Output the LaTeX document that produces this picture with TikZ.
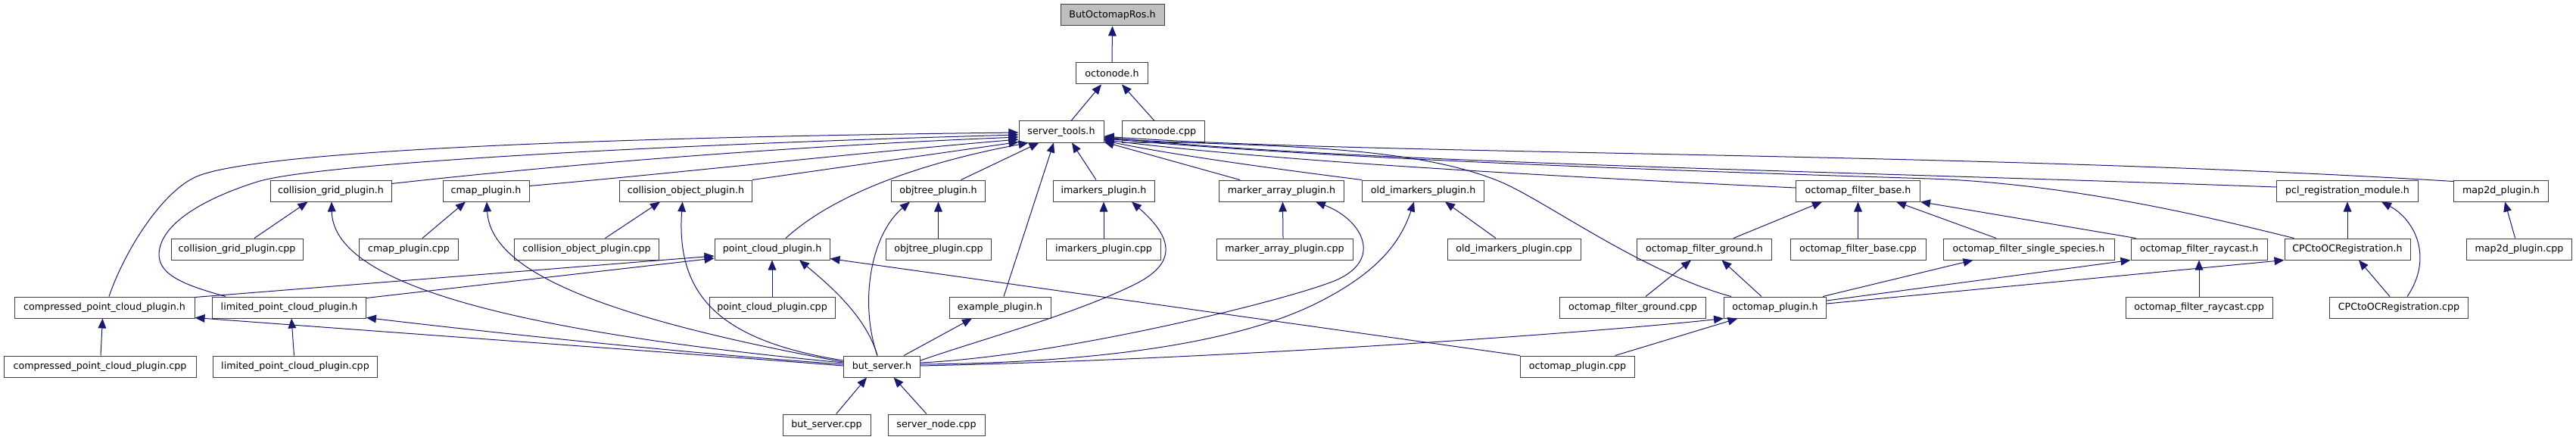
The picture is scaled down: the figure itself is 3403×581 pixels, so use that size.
\documentclass[tikz,border=0pt]{standalone}
\usepackage{fontspec}
\setmainfont{DejaVu Sans}
\usetikzlibrary{arrows.meta,calc}
\definecolor{edgecol}{HTML}{191970}
\definecolor{nodeborder}{HTML}{404040}
\definecolor{rootfill}{HTML}{BFBFBF}
\tikzset{
  box/.style={draw=nodeborder, line width=0.75pt, fill=white, minimum height=21pt,
    inner xsep=1pt, inner ysep=0pt, font=\fontsize{9.5pt}{11pt}\selectfont, anchor=center},
  bw/.style={minimum width={#1*0.75pt}},
  inc/.style={draw=edgecol, line width=0.75pt, {Triangle[length=9.75pt,width=8pt]}-},
}
\begin{document}
\begin{tikzpicture}[x=0.75pt,y=-0.75pt]
\useasboundingbox (0,0) rectangle (3403,581);
% row 0-2
\node[box,bw=137,fill=rootfill] (bor) at (1469.5,20) {ButOctomapRos.h};
\node[box,bw=95] (ocn) at (1469,97) {octonode.h};
\node[box,bw=112] (st) at (1402,174) {server\_tools.h};
\node[box,bw=109] (ocncpp) at (1537,174) {octonode.cpp};
% row 3
\node[box,bw=160] (cgh) at (437,252) {collision\_grid\_plugin.h};
\node[box,bw=114] (cmh) at (642,252) {cmap\_plugin.h};
\node[box,bw=175] (coh) at (906,252) {collision\_object\_plugin.h};
\node[box,bw=124] (oth) at (1239.5,252) {objtree\_plugin.h};
\node[box,bw=134] (imh) at (1458,252) {imarkers\_plugin.h};
\node[box,bw=165] (mah) at (1693,252) {marker\_array\_plugin.h};
\node[box,bw=161] (oih) at (1880,252) {old\_imarkers\_plugin.h};
\node[box,bw=164] (ofbh) at (2454.5,252) {octomap\_filter\_base.h};
\node[box,bw=187] (pclh) at (3101,252) {pcl\_registration\_module.h};
\node[box,bw=125] (m2h) at (3304,252) {map2d\_plugin.h};
% row 4
\node[box,bw=174] (cgcpp) at (313,329) {collision\_grid\_plugin.cpp};
\node[box,bw=131] (cmcpp) at (540,329) {cmap\_plugin.cpp};
\node[box,bw=191] (cocpp) at (775,329) {collision\_object\_plugin.cpp};
\node[box,bw=152] (pch) at (1020,329) {point\_cloud\_plugin.h};
\node[box,bw=139] (otcpp) at (1240,329) {objtree\_plugin.cpp};
\node[box,bw=151] (imcpp) at (1458,329) {imarkers\_plugin.cpp};
\node[box,bw=180] (macpp) at (1697,329) {marker\_array\_plugin.cpp};
\node[box,bw=176] (oicpp) at (2000,329) {old\_imarkers\_plugin.cpp};
\node[box,bw=178] (ofgh) at (2251.5,329) {octomap\_filter\_ground.h};
\node[box,bw=179] (ofbcpp) at (2454.5,329) {octomap\_filter\_base.cpp};
\node[box,bw=226] (ofssh) at (2680,329) {octomap\_filter\_single\_species.h};
\node[box,bw=180] (ofrh) at (2905,329) {octomap\_filter\_raycast.h};
\node[box,bw=166] (cpch) at (3101,329) {CPCtoOCRegistration.h};
\node[box,bw=139] (m2cpp) at (3328,329) {map2d\_plugin.cpp};
% row 5
\node[box,bw=238] (cpph) at (138,406) {compressed\_point\_cloud\_plugin.h};
\node[box,bw=203] (lpph) at (382,406) {limited\_point\_cloud\_plugin.h};
\node[box,bw=166] (pccpp) at (1020,406) {point\_cloud\_plugin.cpp};
\node[box,bw=134] (exh) at (1321,406) {example\_plugin.h};
\node[box,bw=193] (ofgcpp) at (2157,406) {octomap\_filter\_ground.cpp};
\node[box,bw=135] (omh) at (2345,406) {octomap\_plugin.h};
\node[box,bw=194] (ofrcpp) at (2905,406) {octomap\_filter\_raycast.cpp};
\node[box,bw=183] (cpccpp) at (3169,406) {CPCtoOCRegistration.cpp};
% row 6
\node[box,bw=254] (cppcpp) at (132,484) {compressed\_point\_cloud\_plugin.cpp};
\node[box,bw=217] (lppcpp) at (390,484) {limited\_point\_cloud\_plugin.cpp};
\node[box,bw=101] (bsh) at (1165,484) {but\_server.h};
\node[box,bw=151] (omcpp) at (2084,484) {octomap\_plugin.cpp};
% row 7
\node[box,bw=116] (bscpp) at (1092,561) {but\_server.cpp};
\node[box,bw=128] (sncpp) at (1237,561) {server\_node.cpp};

% top chain
\draw[inc] (bor.south) -- (ocn.north);
\draw[inc] ($(ocn.south)+(-14,0)$) -- ($(st.north)+(13,0)$);
\draw[inc] ($(ocn.south)+(13,0)$) -- ($(ocncpp.north)+(-12,0)$);

% into server_tools.h, left side
\draw[inc] ($(st.west)+(0,1)$) .. controls (900,180) and (350,195) .. (260,233) .. controls (215,252) and (165,330) .. ($(cpph.north)+(6,0)$);
\draw[inc] ($(st.west)+(0,4)$) .. controls (900,190) and (420,215) .. (340,240) .. controls (270,262) and (212,295) .. (210,335) .. controls (209,365) and (250,378) .. ($(lpph.north)+(-84,0)$);
\draw[inc] ($(st.west)+(0,7)$) .. controls (1000,195) and (700,222) .. ($(cgh.north east)+(0,5)$);
\draw[inc] ($(st.west)+(0,10)$) .. controls (1100,205) and (900,228) .. ($(cmh.north east)+(0,8)$);
\draw[inc] ($(st.south west)+(0,-1)$) -- (coh.north east);
\draw[inc] ($(st.south west)+(13,0)$) .. controls (1270,205) and (1120,240) .. ($(pch.north)+(18,0)$);
\draw[inc] ($(st.south west)+(27,0)$) -- ($(oth.north)+(30,0)$);
\draw[inc] ($(st.south)+(-10,0)$) -- ($(exh.north)+(5,0)$);
\draw[inc] ($(st.south)+(14,0)$) -- ($(imh.north)+(-10,0)$);
% into server_tools.h, right side
\draw[inc] ($(st.south east)+(0,-1)$) -- ($(mah.north west)+(28,0)$);
\draw[inc] ($(st.south east)+(0,-3)$) .. controls (1550,205) and (1700,225) .. (oih.north west);
\draw[inc] ($(st.south east)+(0,-4)$) .. controls (1700,215) and (2100,235) .. ($(ofbh.west)+(0,-4)$);
\draw[inc] ($(st.east)+(0,8)$) .. controls (1620,195) and (1850,185) .. (1982,240) .. controls (2040,264) and (2170,360) .. ($(omh.north west)+(10,0)$);
\draw[inc] ($(st.east)+(0,7)$) .. controls (1800,215) and (2400,225) .. ($(pclh.west)+(0,-5)$);
\draw[inc] ($(st.east)+(0,6)$) .. controls (1800,205) and (2600,200) .. ($(m2h.north west)+(0,2)$);
\draw[inc] ($(st.east)+(0,9)$) .. controls (1800,213) and (2300,228) .. (2550,236) .. controls (2750,243) and (2950,295) .. ($(cpch.north west)+(13,0)$);

% from but_server.h
\draw[inc] ($(cpph.south east)+(0,-1)$) .. controls (600,445) and (950,470) .. ($(bsh.west)+(0,-1)$);
\draw[inc] ($(lpph.south east)+(0,-1)$) .. controls (700,445) and (950,470) .. ($(bsh.west)+(0,-3)$);
\draw[inc] ($(cgh.south)+(1,0)$) .. controls (440,370) and (650,435) .. ($(bsh.west)+(0,-5)$);
\draw[inc] ($(cmh.south)+(1,0)$) .. controls (648,360) and (800,420) .. ($(bsh.west)+(0,-6)$);
\draw[inc] ($(coh.south)+(-4.5,0)$) .. controls (893,390) and (950,450) .. ($(bsh.west)+(0,-8)$);
\draw[inc] ($(oth.south)+(-37.5,0)$) .. controls (1150,310) and (1135,400) .. ($(bsh.north)+(-6,0)$);
\draw[inc] ($(pch.south)+(36,0)$) .. controls (1100,380) and (1145,420) .. ($(bsh.north)+(-6,0)$);
\draw[inc] ($(imh.south)+(37,0)$) .. controls (1545,310) and (1560,345) .. (1500,375) .. controls (1420,415) and (1290,450) .. ($(bsh.east)+(0,-8)$);
\draw[inc] ($(mah.south)+(45,0)$) .. controls (1800,290) and (1830,345) .. (1760,372) .. controls (1690,399) and (1400,470) .. ($(bsh.east)+(0,-5)$);
\draw[inc] ($(oih.south)+(-12,0)$) .. controls (1850,320) and (1820,360) .. (1740,400) .. controls (1600,470) and (1350,480) .. ($(bsh.east)+(0,-3)$);
\draw[inc] ($(exh.south)+(-37,0)$) -- ($(bsh.north)+(29,0)$);
\draw[inc] (omh.south west) .. controls (2100,440) and (1600,475) .. ($(bsh.east)+(0,-1)$);
\draw[inc] ($(bsh.south)+(-20,0)$) -- ($(bscpp.north)+(12.7,0)$);
\draw[inc] ($(bsh.south)+(15.6,0)$) -- ($(sncpp.north)+(-13,0)$);

% cpp to own headers and others
\draw[inc] ($(cgh.south)+(-30.5,0)$) -- ($(cgcpp.north)+(23,0)$);
\draw[inc] ($(cmh.south)+(-27,0)$) -- ($(cmcpp.north)+(18,0)$);
\draw[inc] ($(coh.south)+(-34,0)$) -- ($(cocpp.north)+(24.5,0)$);
\draw[inc] (oth.south) -- ($(otcpp.north)+(-0.5,0)$);
\draw[inc] (imh.south) -- (imcpp.north);
\draw[inc] ($(mah.south)+(1.5,0)$) -- ($(macpp.north)+(-2,0)$);
\draw[inc] ($(oih.south)+(29,0)$) -- ($(oicpp.north)+(-24,0)$);
\draw[inc] ($(ofbh.south)+(-47.5,0)$) -- ($(ofgh.north)+(38.5,0)$);
\draw[inc] (ofbh.south) -- (ofbcpp.north);
\draw[inc] ($(ofbh.south)+(50.5,0)$) -- ($(ofssh.north)+(-43,0)$);
\draw[inc] (ofbh.south east) -- ($(ofrh.north west)+(7,0)$);
\draw[inc] ($(ofgh.south)+(-17.5,0)$) -- ($(ofgcpp.north)+(17,0)$);
\draw[inc] ($(ofgh.south)+(23,0)$) -- ($(omh.north)+(-18,0)$);
\draw[inc] ($(ofssh.south west)+(40,0)$) -- ($(omh.north east)+(-5,0)$);
\draw[inc] (ofrh.south west) -- ($(omh.east)+(0,-9)$);
\draw[inc] (cpch.south west) -- ($(omh.east)+(0,-5)$);
\draw[inc] ($(omh.south west)+(18.5,0)$) -- ($(omcpp.north)+(49.6,0)$);
\draw[inc] ($(pch.south east)+(0,-2)$) -- (omcpp.north west);
\draw[inc] ($(cpph.south)+(-2.5,0)$) -- ($(cppcpp.north)+(1,0)$);
\draw[inc] ($(lpph.south)+(3,0)$) -- ($(lppcpp.north)+(-1.5,0)$);
\draw[inc] ($(pch.west)+(0,9)$) -- ($(cpph.north east)+(0,1)$);
\draw[inc] ($(pch.west)+(0,12)$) -- ($(lpph.north east)+(0,2)$);
\draw[inc] (pch.south) -- (pccpp.north);
\draw[inc] (ofrh.south) -- (ofrcpp.north);
\draw[inc] ($(cpch.south)+(15,0)$) -- ($(cpccpp.north)+(-12,0)$);
\draw[inc] ($(pclh.south)+(45,0)$) .. controls (3190,290) and (3215,340) .. ($(cpccpp.north)+(11,0)$);
\draw[inc] (pclh.south) -- (cpch.north);
\draw[inc] ($(m2h.south)+(5,0)$) -- ($(m2cpp.north)+(-5.4,0)$);
\end{tikzpicture}
\end{document}
